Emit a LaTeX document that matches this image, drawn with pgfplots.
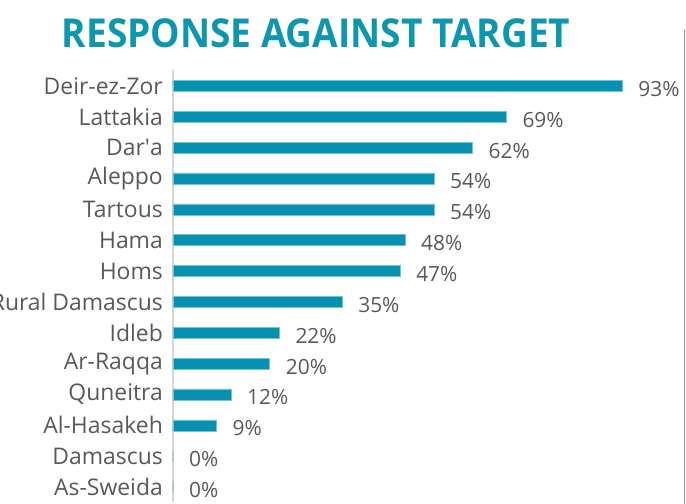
\documentclass[border=0pt]{standalone}
\usepackage{fontspec}
\setmainfont{Open Sans}
\usepackage{pgfplots}
\pgfplotsset{compat=1.18}
\definecolor{barteal}{RGB}{7,145,176}
\definecolor{titleteal}{RGB}{14,150,174}
\definecolor{labgray}{RGB}{89,89,89}
\definecolor{axgray}{RGB}{215,215,215}
\begin{document}
\begin{tikzpicture}
\useasboundingbox (0,0) rectangle (686bp,504bp);
\node[anchor=center, text=titleteal, inner sep=0pt] at (316bp,471bp)
  {\scalebox{0.93}[1]{\fontsize{40}{44}\selectfont\bfseries RESPONSE AGAINST TARGET}};
\draw[color=gray!80, line width=1bp] (684.8bp,0) -- (684.8bp,474bp);
\begin{axis}[
  at={(173bp,1.6bp)}, anchor=south west,
  scale only axis, width=483bp, height=432bp,
  xmin=0, xmax=100,
  ymin=-0.5, ymax=13.5, y dir=reverse,
  xbar, bar width=11bp,
  axis x line=none,
  axis y line=left,
  y axis line style={-, draw=axgray, line width=1.6bp},
  ytick=data,
  yticklabels={Deir-ez-Zor,Lattakia,Dar\textquotesingle a,Aleppo,Tartous,Hama,Homs,Rural Damascus,Idleb,Ar-Raqqa,Quneitra,Al-Hasakeh,Damascus,As-Sweida},
  major tick length=0pt,
  yticklabel style={font=\fontsize{23}{25}\selectfont, text=labgray, anchor=east, inner sep=0pt, xshift=-10bp},
  clip=false,
  /pgf/number format/assume math mode=true,
  nodes near coords={\pgfmathprintnumber{\pgfplotspointmeta}\%},
  point meta=explicit,
  every node near coord/.append style={font=\fontsize{21}{22}\selectfont, text=labgray, anchor=west, inner sep=0pt, xshift=16bp, yshift=-3bp},
]
\addplot[fill=barteal, draw=barteal!55!white, line width=0.5bp] coordinates {
 (93,0) [93] (69,1) [69] (62,2) [62] (54,3) [54] (54,4) [54] (48,5) [48] (47,6) [47]
 (35,7) [35] (22,8) [22] (20,9) [20] (12,10) [12] (9,11) [9] (0,12) [0] (0,13) [0]
};
\end{axis}
\end{tikzpicture}
\end{document}
